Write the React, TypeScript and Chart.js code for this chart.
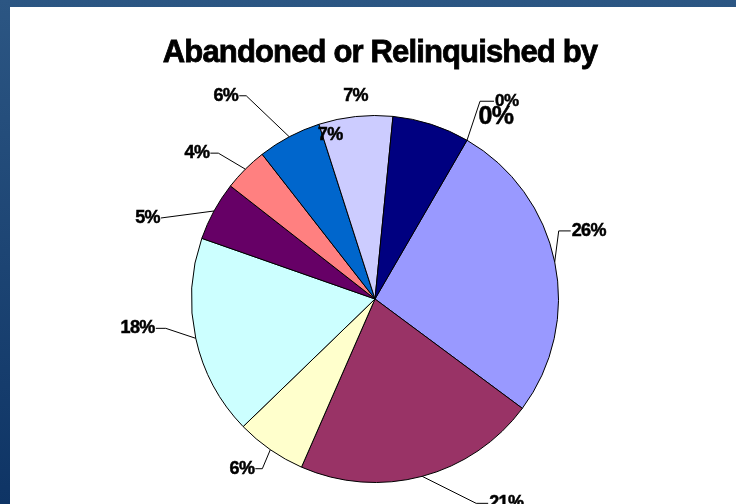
import React, { useEffect, useRef } from 'react';
import { Chart, registerables } from 'chart.js';

Chart.register(...registerables);

const titleText = 'Abandoned or Relinquished by';
const categories = ['Cat 1', 'Cat 2', 'Cat 3', 'Cat 4', 'Cat 5', 'Cat 6', 'Cat 7', 'Cat 8', 'Cat 9', 'Cat 10', 'Cat 11'];
const values = [26.8, 21.4, 6.2, 17.6, 5.2, 3.9, 5.6, 6.5, 6.8, 0, 0];
const labelTexts = ['26%', '21%', '6%', '18%', '5%', '4%', '6%', '7%', '7%', '0%', '0%'];
const colors = ['#9999FF', '#993366', '#FFFFCC', '#CCFFFF', '#660066', '#FF8080', '#0066CC', '#CCCCFF', '#000080', '#FF00FF', '#FFFF00'];

// label placement (offset from slice's outer mid point), alignment, leader elbow, font size
const labelDx = [16, 66, -15, -40, -53, -35, -50, 0, -101, 27, 29];
const labelDy = [-31, 27, 19, -10, 7, -16, -41, -21, 11, -39, -23];
const labelAlign = ['left', 'left', 'right', 'right', 'right', 'right', 'right', 'center', 'center', 'left', 'center'];
const labelElbow = [12, 12, 7, 10, 0, 8, 7, -1, -1, 14, -1];
const labelSize = [18, 18, 18, 18, 18, 18, 18, 18, 18, 17, 25];

const FONT = '"Liberation Sans", Arial, sans-serif';

const titlePlugin = {
  id: 'condensedTitle',
  afterDraw(chart: any) {
    const ctx = chart.ctx;
    ctx.save();
    ctx.font = `bold 31px ${FONT}`;
    (ctx as any).letterSpacing = '-0.85px';
    ctx.fillStyle = '#000';
    ctx.strokeStyle = '#000';
    ctx.lineWidth = 0.8;
    ctx.textAlign = 'center';
    ctx.textBaseline = 'alphabetic';
    ctx.fillText(titleText, chart.width / 2 + 7, 55);
    ctx.strokeText(titleText, chart.width / 2 + 7, 55);
    ctx.restore();
  },
};

const labelPlugin = {
  id: 'pieLabels',
  afterDatasetsDraw(chart: any) {
    const ctx = chart.ctx;
    const meta = chart.getDatasetMeta(0);
    ctx.save();
    ctx.fillStyle = '#000';
    ctx.strokeStyle = '#000';
    ctx.textBaseline = 'middle';
    meta.data.forEach((arc: any, i: number) => {
      const p = arc.getProps(['x', 'y', 'startAngle', 'endAngle', 'outerRadius'], true);
      const mid = (p.startAngle + p.endAngle) / 2;
      const ex = p.x + Math.cos(mid) * p.outerRadius;
      const ey = p.y + Math.sin(mid) * p.outerRadius;
      const ax = ex + labelDx[i];
      const ay = ey + labelDy[i];
      const align = labelAlign[i];
      const elbow = labelElbow[i];
      if (elbow >= 0) {
        const dir = align === 'left' ? -1 : 1;
        (ctx as any).letterSpacing = '0px';
        ctx.lineWidth = 1;
        ctx.beginPath();
        ctx.moveTo(ex, ey);
        ctx.lineTo(ax + dir * elbow, ay);
        ctx.lineTo(ax, ay);
        ctx.stroke();
      }
      ctx.font = `bold ${labelSize[i]}px ${FONT}`;
      (ctx as any).letterSpacing = '-0.6px';
      ctx.textAlign = align;
      ctx.lineWidth = 0.5;
      const tx = align === 'left' ? ax + 1 : align === 'right' ? ax - 1 : ax;
      ctx.fillText(labelTexts[i], tx, ay);
      ctx.strokeText(labelTexts[i], tx, ay);
    });
    ctx.restore();
  },
};

export default function App() {
  const canvasRef = useRef<HTMLCanvasElement | null>(null);

  useEffect(() => {
    if (!canvasRef.current) return;
    const chart = new Chart(canvasRef.current, {
      type: 'pie',
      data: {
        labels: categories,
        datasets: [
          {
            data: values,
            backgroundColor: colors,
            borderColor: '#000000',
            borderWidth: 1,
          },
        ],
      },
      options: {
        responsive: false,
        animation: false,
        rotation: 30.1,
        layout: { padding: { left: 4, right: 0, top: 108, bottom: 21 } },
        plugins: {
          legend: { display: false },
          tooltip: { enabled: false },
          title: { display: false },
        },
      },
      plugins: [labelPlugin, titlePlugin],
    });
    return () => chart.destroy();
  }, []);

  return (
    <div
      style={{
        position: 'absolute',
        left: 0,
        top: 0,
        width: 736,
        height: 504,
        overflow: 'hidden',
        background: 'linear-gradient(to bottom, #2c5683, #0e3465)',
      }}
    >
      <div style={{ position: 'absolute', left: 10, top: 7, width: 726, height: 497, background: '#ffffff' }}>
        <canvas ref={canvasRef} width={726} height={497} style={{ display: 'block' }} />
      </div>
    </div>
  );
}
